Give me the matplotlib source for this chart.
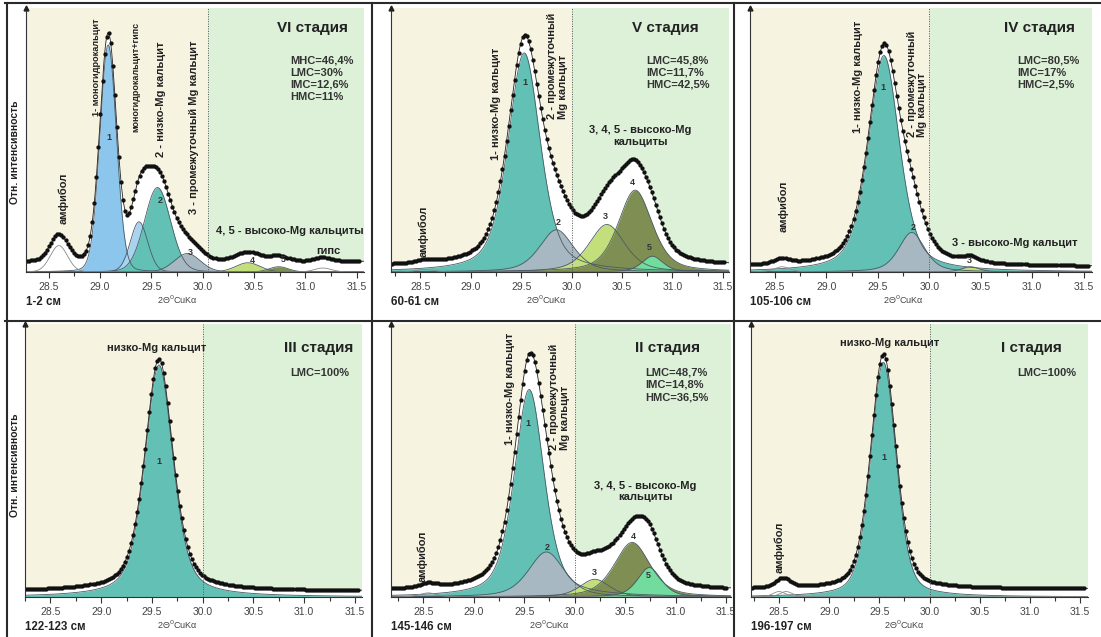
import numpy as np
import matplotlib.pyplot as plt
from matplotlib.lines import Line2D
from matplotlib.ticker import MultipleLocator

plt.rcParams['font.family'] = ['Liberation Sans', 'DejaVu Sans']

# Peak fits of the calcite (104) reflection. Centre in °2θ, height in % of
# the axis, FWHM in °2θ. "other" peaks are non-carbonate phases (outlined only).

# VI стадия, 1-2 см
vi_center = [29.08, 29.38, 29.56, 29.85, 30.44, 30.74]
vi_height = [86.0, 19.0, 32.0, 7.0, 3.5, 2.0]
vi_fwhm = [0.19, 0.20, 0.30, 0.30, 0.28, 0.22]
vi_other_center = [28.60, 31.17]
vi_other_height = [10.0, 1.5]
vi_other_fwhm = [0.20, 0.20]
vi_base = 4.0
vi_shares = ['MHC=46,4%', 'LMC=30%', 'IMC=12,6%', 'HMC=11%']

# V стадия, 60-61 см
v_center = [29.53, 29.85, 30.35, 30.63, 30.80]
v_height = [83.0, 16.0, 18.0, 31.0, 6.0]
v_fwhm = [0.38, 0.40, 0.42, 0.40, 0.25]
v_other_center = [28.55]
v_other_height = [1.0]
v_other_fwhm = [0.20]
v_base = 2.0
v_shares = ['LMC=45,8%', 'IMC=11,7%', 'HMC=42,5%']

# IV стадия, 105-106 см
iv_center = [29.56, 29.83, 30.40]
iv_height = [82.0, 15.0, 2.0]
iv_fwhm = [0.36, 0.30, 0.20]
iv_other_center = [28.57]
iv_other_height = [2.0]
iv_other_fwhm = [0.18]
iv_base = 2.0
iv_shares = ['LMC=80,5%', 'IMC=17%', 'HMC=2,5%']

# III стадия, 122-123 см
iii_center = [29.57]
iii_height = [85.0]
iii_fwhm = [0.33]
iii_other_center = []
iii_other_height = []
iii_other_fwhm = []
iii_base = 2.2
iii_shares = ['LMC=100%']

# II стадия, 145-146 см
ii_center = [29.55, 29.72, 30.20, 30.57, 30.74]
ii_height = [76.0, 16.5, 6.5, 20.0, 10.8]
ii_fwhm = [0.35, 0.42, 0.35, 0.42, 0.28]
ii_other_center = [28.55]
ii_other_height = [1.5]
ii_other_fwhm = [0.20]
ii_base = 2.3
ii_shares = ['LMC=48,7%', 'IMC=14,8%', 'HMC=36,5%']

# I стадия, 196-197 см
i_center = [29.54]
i_height = [86.0]
i_fwhm = [0.30]
i_other_center = [28.50, 28.57]
i_other_height = [2.0, 2.0]
i_other_fwhm = [0.15, 0.15]
i_base = 3.0
i_shares = ['LMC=100%']

BLUE = '#8cc6ec'
BLUE_LIGHT = '#a9d4ef'
TEAL = '#62c0b4'
GREY = '#a8b8c2'
YGREEN = '#c2df7c'
OLIVE = '#7f8f54'
MINT = '#72dc9f'
BEIGE = '#f6f3e1'
GREEN = '#ddf1d9'

W, H = 1101, 637
fig = plt.figure(figsize=(W / 100, H / 100), dpi=100)


def box(left, top, right, bottom):
    return [left / W, 1 - bottom / H, (right - left) / W, (bottom - top) / H]


def pvoigt(x, c, h, w, eta):
    g = np.exp(-4 * np.log(2) * (x - c) ** 2 / w ** 2)
    lor = 1 / (1 + 4 * (x - c) ** 2 / w ** 2)
    return h * (eta * lor + (1 - eta) * g)


panels = [
    dict(box=(26, 8, 364, 272), xlim=(28.28, 31.57), split=30.05, eta=0.1,
         center=vi_center, height=vi_height, fwhm=vi_fwhm,
         colors=[BLUE, BLUE_LIGHT, TEAL, GREY, YGREEN, OLIVE],
         o_center=vi_other_center, o_height=vi_other_height, o_fwhm=vi_other_fwhm,
         base=vi_base, shares=vi_shares, stage='VI стадия', depth='1-2 см',
         stage_xy=(31.07, 92.5), shares_xy=(30.85, 82.0),
         vlabels=[('амфибол', 28.64, 18, 8), ('1- моногидрокальцит', 28.97, 59, 6.6),
                  ('моногидрокальцит+гипс', 29.35, 53, 6.5), ('2 - низко-Mg кальцит', 29.59, 43.5, 8),
                  ('3 - промежуточный Mg кальцит', 29.92, 22, 8)],
         hlabels=[('4, 5 - высоко-Mg кальциты', 30.85, 15.5), ('гипс', 31.22, 8.0)],
         nums=[('1', 29.09, 51), ('2', 29.59, 27), ('3', 29.88, 7.2), ('4', 30.48, 4.2), ('5', 30.78, 4.9)]),
    dict(box=(391, 8, 729, 272), xlim=(28.21, 31.56), split=30.0, eta=0.5,
         center=v_center, height=v_height, fwhm=v_fwhm,
         colors=[TEAL, GREY, YGREEN, OLIVE, MINT],
         o_center=v_other_center, o_height=v_other_height, o_fwhm=v_other_fwhm,
         base=v_base, shares=v_shares, stage='V стадия', depth='60-61 см',
         stage_xy=(30.93, 92.5), shares_xy=(30.74, 82.0),
         vlabels=[('амфибол', 28.53, 5.7, 8), ('1- низко-Mg кальцит', 29.25, 42.4, 8),
                  ('2 - промежуточный\nMg кальцит', 29.86, 58, 8)],
         hlabels=[('3, 4, 5 - высоко-Mg\nкальциты', 30.68, 51.5)],
         nums=[('1', 29.54, 71.6), ('2', 29.87, 18.9), ('3', 30.33, 21.2), ('4', 30.6, 34), ('5', 30.77, 9.1)]),
    dict(box=(750, 8, 1092, 272), xlim=(28.26, 31.58), split=30.0, eta=0.5,
         center=iv_center, height=iv_height, fwhm=iv_fwhm,
         colors=[TEAL, GREY, YGREEN],
         o_center=iv_other_center, o_height=iv_other_height, o_fwhm=iv_other_fwhm,
         base=iv_base, shares=iv_shares, stage='IV стадия', depth='105-106 см',
         stage_xy=(31.07, 92.5), shares_xy=(30.85, 82.0),
         vlabels=[('амфибол', 28.58, 15, 8), ('1- низко-Mg кальцит', 29.31, 52.7, 8),
                  ('2 - промежуточный\nMg кальцит', 29.88, 51, 8)],
         hlabels=[('3 - высоко-Mg кальцит', 30.83, 11)],
         nums=[('1', 29.55, 70), ('2', 29.84, 16.7), ('3', 30.39, 4.5)]),
    dict(box=(25, 324, 362, 597), xlim=(28.25, 31.57), split=30.0, eta=0.5,
         center=iii_center, height=iii_height, fwhm=iii_fwhm,
         colors=[TEAL],
         o_center=iii_other_center, o_height=iii_other_height, o_fwhm=iii_other_fwhm,
         base=iii_base, shares=iii_shares, stage='III стадия', depth='122-123 см',
         stage_xy=(31.14, 91.2), shares_xy=(30.86, 84.0),
         vlabels=[],
         hlabels=[('низко-Mg кальцит', 29.55, 91.2)],
         nums=[('1', 29.57, 49.5)]),
    dict(box=(391, 324, 731, 597), xlim=(28.18, 31.55), split=30.0, eta=0.5,
         center=ii_center, height=ii_height, fwhm=ii_fwhm,
         colors=[TEAL, GREY, YGREEN, OLIVE, MINT],
         o_center=ii_other_center, o_height=ii_other_height, o_fwhm=ii_other_fwhm,
         base=ii_base, shares=ii_shares, stage='II стадия', depth='145-146 см',
         stage_xy=(30.92, 91.2), shares_xy=(30.70, 84.0),
         vlabels=[('амфибол', 28.49, 5.5, 8), ('1- низко-Mg кальцит', 29.36, 55.7, 8),
                  ('2 - промежуточный\nMg кальцит', 29.85, 53.8, 8)],
         hlabels=[('3, 4, 5 - высоко-Mg\nкальциты', 30.70, 38.5)],
         nums=[('1', 29.54, 63.7), ('2', 29.73, 18), ('3', 30.2, 8.8), ('4', 30.58, 22), ('5', 30.73, 7.7)]),
    dict(box=(751, 324, 1088, 597), xlim=(28.22, 31.58), split=30.0, eta=0.35,
         center=i_center, height=i_height, fwhm=i_fwhm,
         colors=[TEAL],
         o_center=i_other_center, o_height=i_other_height, o_fwhm=i_other_fwhm,
         base=i_base, shares=i_shares, stage='I стадия', depth='196-197 см',
         stage_xy=(31.02, 91.2), shares_xy=(30.87, 84.0),
         vlabels=[('амфибол', 28.50, 8.8, 8)],
         hlabels=[('низко-Mg кальцит', 29.60, 93)],
         nums=[('1', 29.55, 51)]),
]

TXT = '#222222'
ticks = np.arange(28.5, 31.51, 0.5)

for p in panels:
    ax = fig.add_axes(box(*p['box']))
    x0, x1 = p['xlim']
    ax.set_xlim(x0, x1)
    ax.set_ylim(0, 100)
    ax.axvspan(x0, p['split'], color=BEIGE, lw=0, zorder=0)
    ax.axvspan(p['split'], x1, color=GREEN, lw=0, zorder=0)
    ax.axvline(p['split'], color='#555555', lw=0.7, ls=(0, (1, 1.5)), zorder=6)

    eta = p['eta']
    xf = np.linspace(x0, x1, 1500)
    xs = np.arange(x0 + 0.005, x1 - 0.03, 0.02)

    def profile(x):
        y = np.full_like(x, p['base'])
        for c, h, w in zip(p['center'], p['height'], p['fwhm']):
            y = y + pvoigt(x, c, h, w, eta)
        for c, h, w in zip(p['o_center'], p['o_height'], p['o_fwhm']):
            y = y + pvoigt(x, c, h, w, eta)
        return y

    ax.fill_between(xf, 0, profile(xf), color='white', lw=0, zorder=1)
    for c, h, w, col in zip(p['center'], p['height'], p['fwhm'], p['colors']):
        ax.fill_between(xf, 0, pvoigt(xf, c, h, w, eta), color=col, lw=0, zorder=2)
    for c, h, w in zip(p['center'], p['height'], p['fwhm']):
        ax.plot(xf, pvoigt(xf, c, h, w, eta), color='#4b5a62', lw=0.6, zorder=3)
    for c, h, w in zip(p['o_center'], p['o_height'], p['o_fwhm']):
        ax.plot(xf, pvoigt(xf, c, h, w, eta), color='#8a8a8a', lw=0.6, zorder=3)
    ax.plot(xf, profile(xf), color='#222222', lw=0.6, zorder=4)
    ax.plot(xs, profile(xs), 'o', color='#111111', ms=3.1, mew=0, zorder=5)

    # axes: left arrow, bottom scale only
    for side in ('top', 'right'):
        ax.spines[side].set_visible(False)
    for side in ('left', 'bottom'):
        ax.spines[side].set_color('#333333')
        ax.spines[side].set_linewidth(0.8)
        ax.spines[side].set_zorder(7)
    ax.plot([0], [1], marker='^', ms=3.5, color='#222222', transform=ax.transAxes,
            clip_on=False, zorder=8)
    ax.set_yticks([])
    ax.xaxis.set_minor_locator(MultipleLocator(0.25))
    ax.set_xticks(ticks)
    ax.set_xticklabels([f'{t:.1f}' for t in ticks])
    ax.tick_params(axis='x', which='major', length=4, width=0.8, color='#333333',
                   labelsize=7.5, labelcolor='#444444', pad=3)
    ax.tick_params(axis='x', which='minor', length=3, width=0.8, color='#333333')

    ax.text(*p['stage_xy'], p['stage'], fontsize=11, weight='bold', color=TXT,
            ha='center', va='center', zorder=9)
    ax.text(*p['shares_xy'], '\n'.join(p['shares']), fontsize=8, weight='bold',
            color='#333333', ha='left', va='top', linespacing=1.27, zorder=9)
    for s, x, y, fs in p['vlabels']:
        ax.text(x, y, s, rotation=90, fontsize=fs, weight='bold', color=TXT,
                ha='center', va='bottom', multialignment='left', linespacing=1.05, zorder=9)
    for s, x, y in p['hlabels']:
        ax.text(x, y, s, fontsize=8, weight='bold', color=TXT, ha='center',
                va='center', linespacing=1.15, zorder=9)
    for s, x, y in p['nums']:
        ax.text(x, y, s, fontsize=6.5, weight='bold', color='#333333', ha='center',
                va='center', zorder=9)

    ax.annotate(p['depth'], xy=(0, 0), xycoords='axes fraction', xytext=(0, -21.5),
                textcoords='offset points', fontsize=8.3, weight='bold', color=TXT,
                ha='left', va='center')
    ax.annotate('2Θ$^0$CuKα', xy=(29.75, 0), xycoords=ax.get_xaxis_transform(),
                xytext=(0, -20), textcoords='offset points', fontsize=6.5,
                color='#444444', ha='center', va='center')

for yc in (152, 465):
    fig.text(15 / W, 1 - yc / H, 'Отн. интенсивность', rotation=90, fontsize=7.5,
             weight='bold', color=TXT, ha='center', va='center')

# panel frames
frame = dict(color='#2a2a2a', lw=1.5, transform=fig.transFigure)
fig.add_artist(Line2D([5 / W, 1], [1 - 3 / H, 1 - 3 / H], **frame))
fig.add_artist(Line2D([5 / W, 1], [1 - 321 / H, 1 - 321 / H], **frame))
for xv in (7, 372, 734):
    fig.add_artist(Line2D([xv / W, xv / W], [0, 1 - 3 / H], **frame))

fig.savefig('out.png', dpi=100)
